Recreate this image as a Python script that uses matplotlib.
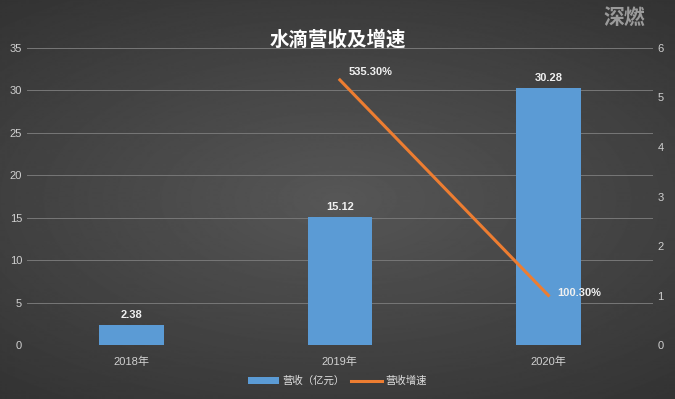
import numpy as np
import matplotlib
matplotlib.use("Agg")
import matplotlib.pyplot as plt

plt.rcParams['font.family'] = ['Liberation Sans', 'Noto Sans CJK SC', 'DejaVu Sans']

# data
years = ["2018年", "2019年", "2020年"]
revenue = [2.38, 15.12, 30.28]          # 营收（亿元）
growth = [None, 5.353, 1.003]           # 营收增速 (right axis, x100%)
growth_labels = ["", "535.30%", "100.30%"]

fig = plt.figure(figsize=(6.75, 3.99), dpi=100)

# dark radial background
bg = fig.add_axes([0, 0, 1, 1], zorder=-10)
yy, xx = np.mgrid[-1:1:400j, -1:1:676j]
r = np.sqrt((xx * 0.75) ** 2 + (yy * 0.9) ** 2)
bg.imshow(0.34 - 0.12 * np.clip(r, 0, 1.3), cmap='gray', vmin=0, vmax=1,
          aspect='auto', extent=[0, 1, 0, 1])
bg.axis('off')

ax = fig.add_axes([0.04, 0.135, 0.927, 0.745])
ax.patch.set_alpha(0)
x = np.arange(len(years))
bars = ax.bar(x, revenue, width=0.31, color='#5b9bd5', zorder=3, label='营收（亿元）')
ax.set_ylim(0, 35)
ax.set_yticks(range(0, 36, 5))
ax.set_xlim(-0.5, 2.5)
ax.set_xticks(x)
ax.set_xticklabels(years)
ax.grid(axis='y', color='#777777', linewidth=0.7, zorder=0)
for s in ax.spines.values():
    s.set_visible(False)
ax.tick_params(colors='#d0d0d0', labelsize=8, length=0)
ax.tick_params(axis='x', pad=8)

for xi, v in zip(x, revenue):
    ax.text(xi, v + 0.6, f"{v:.2f}", ha='center', va='bottom', color='#f0f0f0',
            fontsize=8, fontweight='bold')

ax2 = ax.twinx()
ax2.set_ylim(0, 6)
ax2.set_yticks(range(0, 7))
for s in ax2.spines.values():
    s.set_visible(False)
ax2.tick_params(colors='#d0d0d0', labelsize=8, length=0)
gx = [xi for xi, g in zip(x, growth) if g is not None]
gy = [g for g in growth if g is not None]
line, = ax2.plot(gx, gy, color='#ed7d31', linewidth=2.2, zorder=4, label='营收增速')
for xi, g, lab in zip(x, growth, growth_labels):
    if g is None:
        continue
    ax2.text(xi + 0.04, g + 0.05, lab, ha='left', va='bottom' if xi == 1 else 'center',
             color='#f0f0f0', fontsize=8, fontweight='bold')

fig.text(0.5, 0.9, "水滴营收及增速", ha='center', va='center', color='white',
         fontsize=14, fontweight='bold')
fig.text(0.925, 0.955, "深燃", ha='center', va='center', color='#9a9a9a',
         fontsize=15, fontweight='bold', style='italic')

fig.legend(handles=[bars, line], loc='center', bbox_to_anchor=(0.5, 0.045), ncol=2,
           frameon=False, fontsize=7.5, labelcolor='#e0e0e0', handlelength=3,
           columnspacing=0.6, handletextpad=0.3)

fig.savefig("out.png", dpi=100)
